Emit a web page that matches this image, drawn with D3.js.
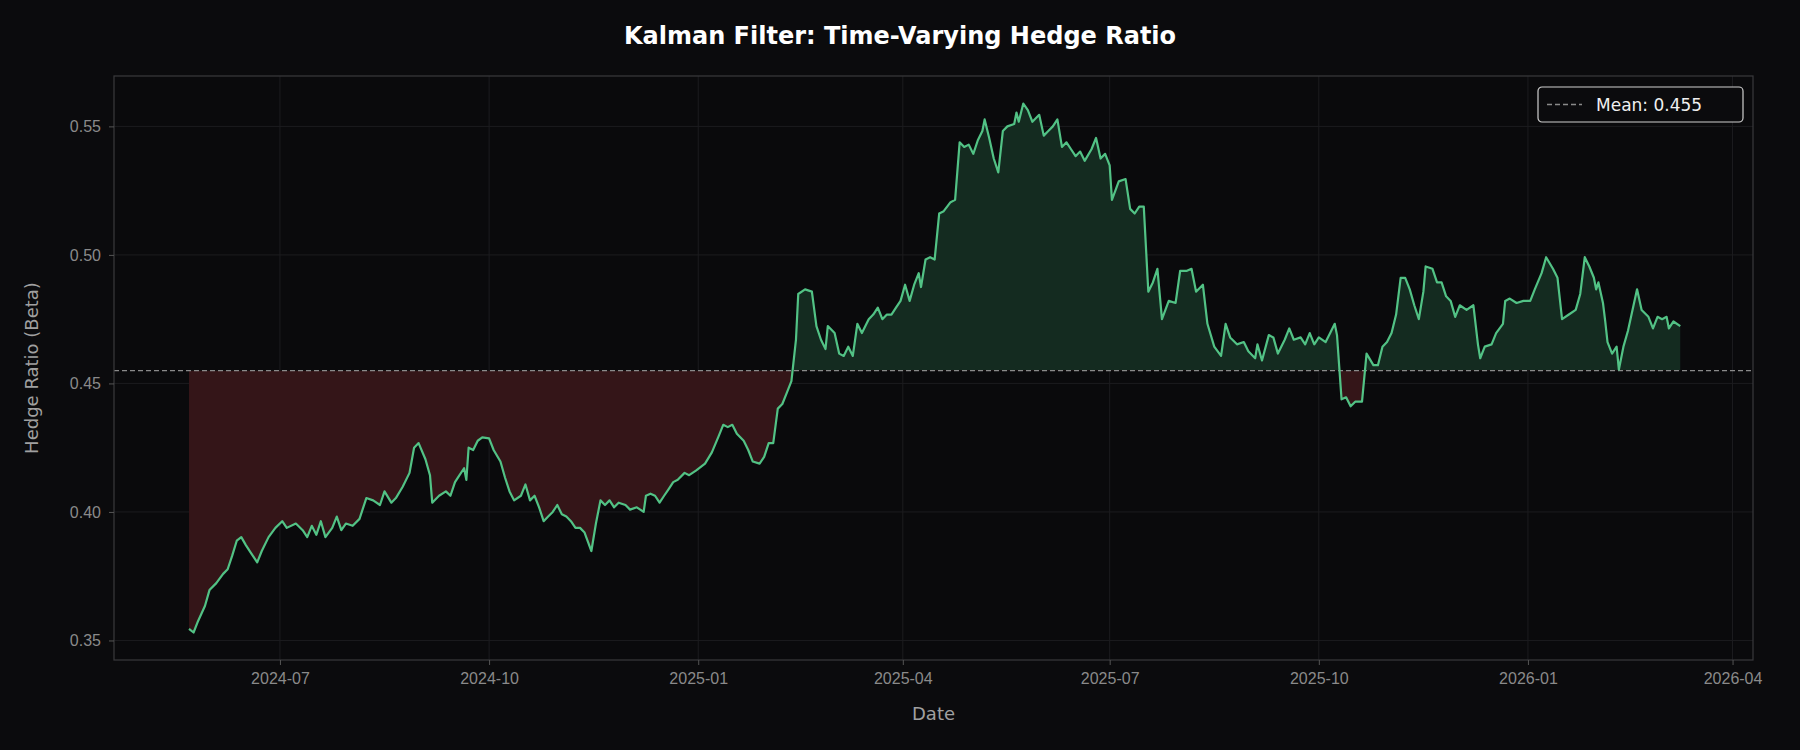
<!DOCTYPE html>
<html>
<head>
<meta charset="utf-8">
<script src="https://cdn.jsdelivr.net/npm/d3@7"></script>
<style>
  body { margin: 0; background: #0b0b0d; }
  svg { display: block; font-family: "DejaVu Sans", sans-serif; }
</style>
</head>
<body>
<svg id="chart" width="1800" height="750"></svg>
<script>
// days after the first observation (2024-05-22) and the filtered beta
const startDate = new Date(2024, 4, 22);
const days = [0,2,4,7,9,12,15,17,19,21,23,25,27,30,32,35,38,41,43,47,50,52,54,56,58,60,63,65,67,69,72,75,78,81,84,86,89,91,94,97,99,101,104,106,107,110,113,115,117,119,121,122,123,125,127,129,132,134,137,139,141,143,146,148,150,152,154,156,158,160,162,164,166,168,170,172,174,177,179,181,183,185,187,189,192,194,197,200,201,203,205,207,209,211,213,215,218,220,223,227,230,233,235,237,239,241,244,246,248,251,253,255,257,259,261,263,265,267,268,271,274,276,278,280,281,284,286,288,290,292,294,296,299,301,303,305,307,309,311,313,315,317,319,321,322,324,326,328,330,332,335,337,339,341,343,345,347,349,350,352,354,356,358,360,363,364,365,367,369,371,374,376,378,380,382,384,386,388,390,392,394,397,399,401,403,405,406,409,412,414,416,418,420,422,424,426,428,431,434,436,439,441,443,446,448,451,454,456,458,461,464,466,469,470,472,475,477,479,482,484,486,489,491,493,495,497,500,502,504,505,507,509,511,513,516,518,521,523,525,527,529,531,533,535,537,539,541,543,544,547,549,551,553,555,557,559,562,565,567,568,570,573,575,578,579,581,584,587,590,592,595,597,600,602,604,607,610,612,614,616,618,619,620,622,623,624,626,628,629,631,633,635,637,639,642,644,646,648,650,651,653,656];
const beta = [0.3545,0.3531,0.3576,0.3634,0.3696,0.3723,0.3759,0.3777,0.3830,0.3888,0.3902,0.3871,0.3844,0.3804,0.3848,0.3902,0.3938,0.3964,0.3938,0.3955,0.3929,0.3902,0.3946,0.3911,0.3964,0.3902,0.3938,0.3982,0.3929,0.3955,0.3946,0.3973,0.4054,0.4045,0.4027,0.4080,0.4036,0.4054,0.4098,0.4152,0.4250,0.4268,0.4205,0.4143,0.4036,0.4063,0.4080,0.4063,0.4116,0.4143,0.4170,0.4125,0.4250,0.4241,0.4277,0.4290,0.4286,0.4241,0.4196,0.4134,0.4080,0.4045,0.4063,0.4107,0.4045,0.4063,0.4018,0.3964,0.3982,0.4000,0.4027,0.3991,0.3982,0.3964,0.3938,0.3938,0.3920,0.3848,0.3955,0.4045,0.4027,0.4045,0.4018,0.4036,0.4027,0.4009,0.4018,0.4000,0.4063,0.4071,0.4063,0.4036,0.4063,0.4089,0.4116,0.4125,0.4152,0.4143,0.4161,0.4188,0.4232,0.4295,0.4339,0.4330,0.4339,0.4304,0.4277,0.4241,0.4196,0.4188,0.4214,0.4268,0.4268,0.4402,0.4420,0.4464,0.4509,0.4670,0.4848,0.4866,0.4857,0.4723,0.4670,0.4634,0.4723,0.4696,0.4616,0.4607,0.4643,0.4607,0.4732,0.4696,0.4750,0.4768,0.4795,0.4750,0.4768,0.4768,0.4795,0.4821,0.4884,0.4821,0.4884,0.4929,0.4875,0.4982,0.4991,0.4982,0.5161,0.5170,0.5205,0.5214,0.5438,0.5420,0.5429,0.5393,0.5446,0.5482,0.5527,0.5455,0.5375,0.5321,0.5482,0.5500,0.5509,0.5554,0.5518,0.5589,0.5563,0.5518,0.5545,0.5464,0.5482,0.5500,0.5527,0.5420,0.5438,0.5411,0.5384,0.5402,0.5366,0.5411,0.5455,0.5375,0.5393,0.5348,0.5214,0.5286,0.5295,0.5179,0.5161,0.5188,0.5188,0.4857,0.4893,0.4946,0.4750,0.4821,0.4813,0.4938,0.4938,0.4946,0.4857,0.4884,0.4732,0.4643,0.4607,0.4732,0.4679,0.4652,0.4661,0.4625,0.4598,0.4652,0.4589,0.4688,0.4679,0.4616,0.4670,0.4714,0.4670,0.4679,0.4652,0.4696,0.4652,0.4679,0.4661,0.4696,0.4732,0.4688,0.4438,0.4446,0.4411,0.4429,0.4429,0.4616,0.4571,0.4571,0.4643,0.4661,0.4696,0.4768,0.4911,0.4911,0.4866,0.4804,0.4750,0.4857,0.4955,0.4946,0.4893,0.4893,0.4839,0.4821,0.4759,0.4804,0.4786,0.4804,0.4652,0.4598,0.4643,0.4652,0.4696,0.4732,0.4821,0.4830,0.4813,0.4821,0.4821,0.4866,0.4929,0.4991,0.4946,0.4911,0.4750,0.4768,0.4786,0.4848,0.4991,0.4955,0.4911,0.4866,0.4893,0.4813,0.4741,0.4661,0.4616,0.4643,0.4554,0.4643,0.4705,0.4786,0.4866,0.4786,0.4759,0.4714,0.4759,0.4750,0.4759,0.4714,0.4741,0.4723];
const meanBeta = 0.455;
const yTicks = [0.35, 0.40, 0.45, 0.50, 0.55];
const xTicks = ["2024-07-01","2024-10-01","2025-01-01","2025-04-01","2025-07-01","2025-10-01","2026-01-01","2026-04-01"];

const data = days.map((d, i) => ({date: d3.timeDay.offset(startDate, d), value: beta[i]}));

const svg = d3.select("#chart");
const m = {left: 114, right: 1753, top: 76, bottom: 660};
const w = m.right - m.left, h = m.bottom - m.top;

const x = d3.scaleTime()
  .domain([new Date(2024, 3, 19), new Date(2026, 3, 10)])
  .range([m.left, m.right]);
const y = d3.scaleLinear().domain([0.3424, 0.5696]).range([m.bottom, m.top]);

svg.append("rect").attr("width", 1800).attr("height", 750).attr("fill", "#0b0b0d");
svg.append("rect").attr("x", m.left).attr("y", m.top).attr("width", w).attr("height", h)
  .attr("fill", "#0a0a0c");

// grid
const parse = d3.timeParse("%Y-%m-%d");
svg.append("g").selectAll("line").data(xTicks).join("line")
  .attr("x1", d => x(parse(d))).attr("x2", d => x(parse(d)))
  .attr("y1", m.top).attr("y2", m.bottom)
  .attr("stroke", "#1c1c1f").attr("stroke-width", 1);
svg.append("g").selectAll("line").data(yTicks).join("line")
  .attr("x1", m.left).attr("x2", m.right)
  .attr("y1", d => y(d)).attr("y2", d => y(d))
  .attr("stroke", "#1c1c1f").attr("stroke-width", 1);

// clips above / below the mean
const defs = svg.append("defs");
defs.append("clipPath").attr("id", "above").append("rect")
  .attr("x", m.left).attr("y", m.top).attr("width", w).attr("height", y(meanBeta) - m.top);
defs.append("clipPath").attr("id", "below").append("rect")
  .attr("x", m.left).attr("y", y(meanBeta)).attr("width", w).attr("height", m.bottom - y(meanBeta));

const area = d3.area().x(d => x(d.date)).y0(y(meanBeta)).y1(d => y(d.value));
svg.append("path").datum(data).attr("d", area).attr("clip-path", "url(#above)")
  .attr("fill", "#142b20");
svg.append("path").datum(data).attr("d", area).attr("clip-path", "url(#below)")
  .attr("fill", "#341518");

svg.append("line")
  .attr("x1", m.left).attr("x2", m.right).attr("y1", y(meanBeta)).attr("y2", y(meanBeta))
  .attr("stroke", "#8a8a8a").attr("stroke-width", 1.3).attr("stroke-dasharray", "5,3");

svg.append("path").datum(data)
  .attr("d", d3.line().x(d => x(d.date)).y(d => y(d.value)))
  .attr("fill", "none").attr("stroke", "#52c285").attr("stroke-width", 2.2)
  .attr("stroke-linejoin", "round");

// frame
svg.append("rect").attr("x", m.left).attr("y", m.top).attr("width", w).attr("height", h)
  .attr("fill", "none").attr("stroke", "#3a3a3d").attr("stroke-width", 1.2);

// axes
const fmt = d3.timeFormat("%Y-%m");
const xa = svg.append("g").attr("transform", `translate(0,${m.bottom})`)
  .call(d3.axisBottom(x).tickValues(xTicks.map(parse)).tickFormat(fmt).tickSize(5).tickPadding(8));
const ya = svg.append("g").attr("transform", `translate(${m.left},0)`)
  .call(d3.axisLeft(y).tickValues(yTicks).tickFormat(d3.format(".2f")).tickSize(5).tickPadding(8));
[xa, ya].forEach(a => {
  a.select(".domain").remove();
  a.selectAll("line").attr("stroke", "#555");
  a.selectAll("text").attr("fill", "#8a8a8a").attr("font-size", 16);
});

svg.append("text").attr("x", (m.left + m.right) / 2).attr("y", 720)
  .attr("text-anchor", "middle").attr("fill", "#a0a0a0").attr("font-size", 18).text("Date");
svg.append("text").attr("transform", `translate(38,${(m.top + m.bottom) / 2}) rotate(-90)`)
  .attr("text-anchor", "middle").attr("fill", "#a0a0a0").attr("font-size", 18).text("Hedge Ratio (Beta)");
svg.append("text").attr("x", 900).attr("y", 44).attr("text-anchor", "middle")
  .attr("fill", "#ffffff").attr("font-size", 24).attr("font-weight", "bold")
  .text("Kalman Filter: Time-Varying Hedge Ratio");

// legend
const lg = svg.append("g").attr("transform", "translate(1538,87)");
lg.append("rect").attr("width", 205).attr("height", 35).attr("rx", 4)
  .attr("fill", "#0b0b0d").attr("stroke", "#cfcfcf").attr("stroke-width", 1.2);
lg.append("line").attr("x1", 9).attr("x2", 44).attr("y1", 17.5).attr("y2", 17.5)
  .attr("stroke", "#8a8a8a").attr("stroke-width", 1.3).attr("stroke-dasharray", "5,3");
lg.append("text").attr("x", 58).attr("y", 23.5).attr("fill", "#f0f0f0").attr("font-size", 17)
  .text("Mean: 0.455");
</script>
</body>
</html>
